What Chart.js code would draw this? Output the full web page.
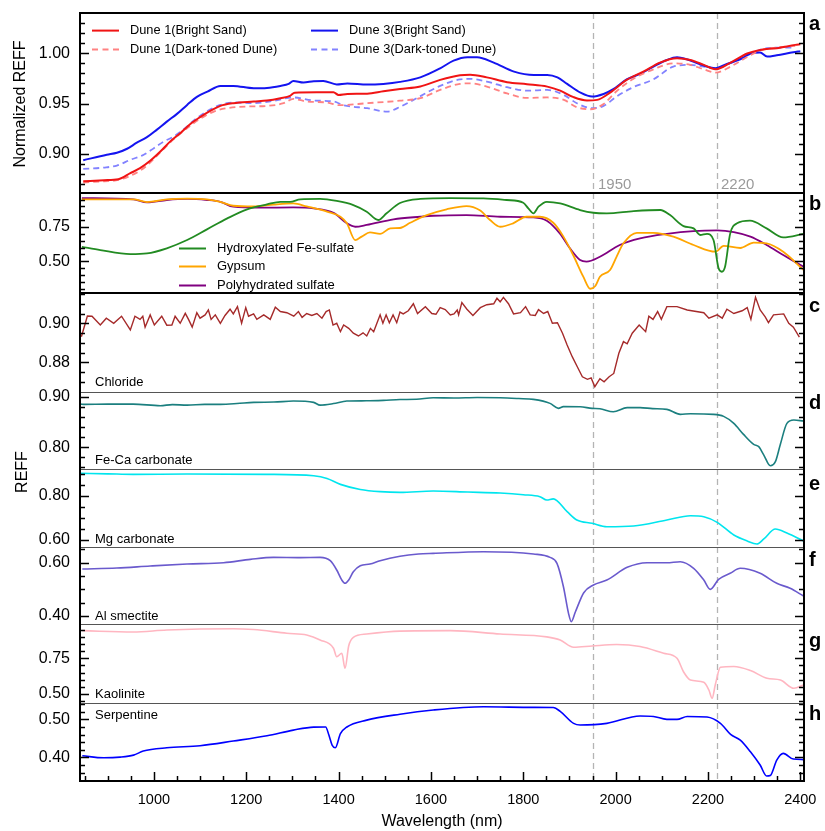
<!DOCTYPE html>
<html lang="en">
<head>
<meta charset="UTF-8">
<title>REFF spectra</title>
<script src="https://cdn.jsdelivr.net/npm/chart.js@4.4.0/dist/chart.umd.min.js"></script>
<style>
  body { margin: 0; background: #fff; }
  #wrap { position: relative; width: 825px; height: 831px; font-family: "Liberation Sans", Arial, sans-serif; color: #000; }
  #wrap canvas { position: absolute; left: 0; }
  .txt { position: absolute; white-space: nowrap; line-height: 1; transform: translateY(-50%); }
  .letter { font-weight: bold; font-size: 20px; left: 809px; }
  .mineral { font-size: 13px; left: 95px; }
  .mark { font-size: 15px; color: #9a9a9a; }
  .leg { position: absolute; font-size: 12.8px; white-space: nowrap; line-height: 1; transform: translateY(-50%); }
  .leg i { display: inline-block; width: 27px; height: 0; vertical-align: middle; margin-right: 11px; border-top: 2px solid; }
  .leg i.dash { border-top-style: dashed; }
</style>
</head>
<body>
<div id="wrap">
  <div class="txt" style="left:20px;top:104px;font-size:16px;transform:translate(-50%,-50%) rotate(-90deg)">Normalized REFF</div>
  <div class="txt" style="left:22px;top:472px;font-size:16px;transform:translate(-50%,-50%) rotate(-90deg)">REFF</div>
  <div class="txt" style="left:442px;top:821px;font-size:16px;transform:translate(-50%,-50%)">Wavelength (nm)</div>

  <div class="leg" style="left:92px;top:30px"><i style="border-color:#f01414"></i>Dune 1(Bright Sand)</div>
  <div class="leg" style="left:92px;top:49px"><i class="dash" style="border-color:#ff8282"></i>Dune 1(Dark-toned Dune)</div>
  <div class="leg" style="left:311px;top:30px"><i style="border-color:#1414f0"></i>Dune 3(Bright Sand)</div>
  <div class="leg" style="left:311px;top:49px"><i class="dash" style="border-color:#8282ff"></i>Dune 3(Dark-toned Dune)</div>

  <div class="leg" style="left:179px;top:247px;font-size:13px"><i style="border-color:#228b22"></i>Hydroxylated Fe-sulfate</div>
  <div class="leg" style="left:179px;top:265px;font-size:13px"><i style="border-color:#ffa500"></i>Gypsum</div>
  <div class="leg" style="left:179px;top:284px;font-size:13px"><i style="border-color:#800080"></i>Polyhydrated sulfate</div>

  <div class="txt mark" style="left:598px;top:183px">1950</div>
  <div class="txt mark" style="left:721px;top:183px">2220</div>

  <div class="txt mineral" style="top:381px">Chloride</div>
  <div class="txt mineral" style="top:459px">Fe-Ca carbonate</div>
  <div class="txt mineral" style="top:538px">Mg carbonate</div>
  <div class="txt mineral" style="top:615px">Al smectite</div>
  <div class="txt mineral" style="top:693px">Kaolinite</div>
  <div class="txt mineral" style="top:714px">Serpentine</div>

  <div class="txt letter" style="top:23px">a</div>
  <div class="txt letter" style="top:203px">b</div>
  <div class="txt letter" style="top:305px">c</div>
  <div class="txt letter" style="top:402px">d</div>
  <div class="txt letter" style="top:483px">e</div>
  <div class="txt letter" style="top:559px">f</div>
  <div class="txt letter" style="top:640px">g</div>
  <div class="txt letter" style="top:713px">h</div>
</div>

<script>
// x axis
const xMin = 840, xMax = 2408;
const xMajorTicks = [1000, 1200, 1400, 1600, 1800, 2000, 2200, 2400];
const markerLines = [1950, 2220];

// panel a - dune spectra [wavelength, normalized REFF]
const dune1Bright = [[847,0.8727],[892,0.8737],[923,0.8747],[949,0.8807],[970,0.8857],[992,0.893],[1014,0.9022],[1035,0.9121],[1057,0.9205],[1079,0.9297],[1100,0.9364],[1122,0.9426],[1144,0.9476],[1172,0.9503],[1216,0.952],[1245,0.953],[1274,0.9553],[1295,0.9576],[1305,0.9608],[1353,0.9612],[1389,0.9612],[1400,0.9585],[1419,0.9595],[1462,0.9598],[1497,0.9622],[1533,0.9645],[1577,0.967],[1620,0.9735],[1663,0.9781],[1685,0.9787],[1721,0.976],[1765,0.9712],[1808,0.9692],[1852,0.9668],[1880,0.9628],[1909,0.9563],[1938,0.953],[1960,0.9536],[1988,0.9608],[2024,0.9735],[2060,0.9817],[2096,0.9907],[2133,0.995],[2162,0.9933],[2191,0.9884],[2216,0.984],[2249,0.9907],[2285,0.9997],[2313,1.0033],[2349,1.005],[2389,1.0083],[2400,1.009]];
const dune1Dark = [[847,0.8714],[892,0.8727],[923,0.874],[963,0.8813],[985,0.8883],[1014,0.9015],[1043,0.9145],[1072,0.9254],[1100,0.9347],[1130,0.942],[1158,0.9453],[1201,0.947],[1245,0.9476],[1281,0.9503],[1302,0.9546],[1331,0.952],[1374,0.951],[1403,0.9483],[1462,0.9503],[1533,0.9528],[1577,0.9553],[1620,0.9635],[1663,0.9695],[1685,0.970],[1721,0.9668],[1765,0.960],[1808,0.9556],[1852,0.956],[1888,0.9536],[1916,0.9463],[1945,0.9443],[1974,0.9496],[2002,0.9622],[2038,0.9745],[2082,0.984],[2125,0.99],[2162,0.9884],[2191,0.984],[2216,0.9807],[2249,0.9867],[2285,0.9963],[2313,1.0027],[2349,1.0057],[2389,1.0073]];
const dune3Bright = [[847,0.8936],[898,0.899],[920,0.901],[942,0.905],[963,0.911],[985,0.9165],[1006,0.9238],[1028,0.932],[1050,0.9397],[1072,0.9486],[1094,0.9569],[1116,0.9618],[1144,0.9675],[1172,0.9675],[1216,0.9652],[1245,0.9655],[1274,0.9675],[1292,0.9695],[1302,0.9725],[1324,0.9708],[1346,0.9722],[1367,0.9725],[1396,0.969],[1419,0.970],[1462,0.9688],[1497,0.9695],[1533,0.9715],[1577,0.976],[1620,0.985],[1649,0.9926],[1679,0.996],[1700,0.996],[1736,0.9907],[1780,0.9817],[1823,0.9784],[1852,0.9784],[1874,0.976],[1895,0.9695],[1924,0.9608],[1949,0.9569],[1974,0.9595],[1995,0.9642],[2024,0.974],[2053,0.9794],[2082,0.9867],[2111,0.9933],[2133,0.996],[2154,0.994],[2183,0.989],[2216,0.985],[2241,0.9894],[2270,0.994],[2291,0.9993],[2313,1.0006],[2328,0.9967],[2349,0.998],[2385,1.001],[2400,1.002]];
const dune3Dark = [[847,0.885],[892,0.8863],[920,0.8883],[949,0.894],[978,0.899],[1000,0.9056],[1021,0.9121],[1043,0.9171],[1065,0.9245],[1086,0.933],[1116,0.9426],[1144,0.9486],[1172,0.951],[1216,0.9503],[1259,0.9526],[1302,0.956],[1346,0.953],[1389,0.952],[1411,0.9483],[1462,0.9453],[1505,0.942],[1533,0.9466],[1569,0.9553],[1620,0.9675],[1663,0.974],[1685,0.9745],[1721,0.9718],[1765,0.9662],[1808,0.9628],[1852,0.9635],[1888,0.9585],[1916,0.9503],[1949,0.9453],[1974,0.9476],[2002,0.9569],[2038,0.9662],[2082,0.974],[2125,0.9867],[2162,0.9884],[2191,0.9867],[2216,0.985],[2249,0.99],[2285,0.998],[2328,1.005],[2389,1.0057]];

// panel b - sulfates
const hydroxFeSulfate = [[844,0.606],[884,0.582],[949,0.553],[985,0.558],[1028,0.595],[1072,0.655],[1115,0.733],[1159,0.813],[1202,0.879],[1245,0.915],[1274,0.934],[1295,0.934],[1317,0.952],[1360,0.955],[1396,0.94],[1432,0.91],[1461,0.862],[1486,0.801],[1504,0.85],[1533,0.925],[1577,0.955],[1642,0.961],[1714,0.959],[1764,0.947],[1800,0.927],[1811,0.886],[1822,0.85],[1833,0.898],[1851,0.934],[1880,0.922],[1923,0.874],[1952,0.854],[1981,0.85],[2039,0.866],[2097,0.874],[2118,0.837],[2147,0.757],[2169,0.74],[2183,0.692],[2198,0.70],[2212,0.655],[2223,0.449],[2230,0.424],[2237,0.46],[2248,0.70],[2263,0.777],[2291,0.796],[2327,0.74],[2363,0.675],[2407,0.70]];
const gypsum = [[844,0.952],[956,0.952],[985,0.932],[1028,0.952],[1072,0.957],[1115,0.952],[1144,0.934],[1172,0.905],[1216,0.90],[1260,0.914],[1302,0.922],[1331,0.90],[1375,0.862],[1404,0.825],[1418,0.777],[1436,0.655],[1450,0.68],[1468,0.711],[1490,0.70],[1512,0.74],[1533,0.743],[1555,0.781],[1591,0.837],[1634,0.879],[1677,0.903],[1706,0.872],[1728,0.801],[1750,0.752],[1778,0.777],[1807,0.825],[1836,0.825],[1865,0.781],[1887,0.68],[1908,0.546],[1930,0.388],[1945,0.30],[1956,0.32],[1966,0.388],[1988,0.437],[2002,0.533],[2017,0.631],[2046,0.708],[2082,0.708],[2125,0.68],[2169,0.619],[2216,0.57],[2234,0.612],[2270,0.597],[2299,0.636],[2327,0.631],[2363,0.57],[2407,0.437]];
const polyhydSulfate = [[844,0.961],[956,0.952],[985,0.929],[1028,0.947],[1072,0.955],[1115,0.947],[1144,0.934],[1172,0.898],[1230,0.891],[1302,0.893],[1346,0.886],[1389,0.854],[1418,0.777],[1436,0.752],[1461,0.765],[1519,0.806],[1577,0.825],[1605,0.832],[1677,0.837],[1750,0.825],[1822,0.82],[1851,0.796],[1880,0.70],[1901,0.595],[1923,0.509],[1937,0.497],[1966,0.533],[2009,0.619],[2053,0.667],[2111,0.70],[2169,0.72],[2220,0.725],[2256,0.713],[2292,0.68],[2327,0.619],[2363,0.546],[2407,0.46]];

// panel c - chloride
const chloride = [[843,0.8931],[856,0.9037],[866,0.9036],[884,0.8991],[897,0.9026],[913,0.900],[930,0.9036],[949,0.8966],[959,0.9036],[970,0.902],[976,0.9036],[981,0.898],[992,0.9043],[1001,0.8991],[1017,0.9036],[1028,0.899],[1039,0.8991],[1046,0.9036],[1057,0.900],[1068,0.9051],[1075,0.902],[1083,0.898],[1093,0.9054],[1100,0.9026],[1111,0.9043],[1118,0.9068],[1124,0.902],[1133,0.9043],[1144,0.900],[1154,0.904],[1165,0.9072],[1172,0.9048],[1181,0.9085],[1190,0.900],[1199,0.908],[1205,0.9036],[1216,0.9048],[1223,0.902],[1238,0.9043],[1252,0.902],[1263,0.9082],[1274,0.906],[1288,0.9054],[1303,0.9036],[1313,0.906],[1321,0.903],[1331,0.905],[1342,0.904],[1353,0.905],[1364,0.9026],[1373,0.906],[1380,0.9068],[1388,0.8991],[1396,0.900],[1404,0.8957],[1411,0.8991],[1422,0.8974],[1432,0.8949],[1443,0.8935],[1453,0.8951],[1461,0.8935],[1469,0.8974],[1476,0.8957],[1483,0.900],[1490,0.9043],[1496,0.900],[1503,0.9043],[1510,0.9003],[1518,0.9043],[1526,0.9003],[1533,0.9057],[1540,0.9048],[1551,0.9064],[1562,0.910],[1571,0.905],[1588,0.9085],[1602,0.905],[1611,0.9046],[1620,0.908],[1631,0.907],[1642,0.9043],[1650,0.9048],[1657,0.9068],[1660,0.9043],[1667,0.9106],[1678,0.9072],[1691,0.904],[1707,0.908],[1721,0.9095],[1736,0.910],[1743,0.9128],[1750,0.911],[1757,0.9133],[1768,0.910],[1779,0.9048],[1794,0.9054],[1805,0.9085],[1815,0.9043],[1826,0.904],[1833,0.907],[1844,0.905],[1853,0.906],[1863,0.900],[1874,0.9003],[1885,0.8949],[1895,0.8889],[1906,0.8829],[1917,0.8777],[1928,0.8726],[1939,0.8713],[1947,0.872],[1955,0.8675],[1966,0.8716],[1975,0.870],[1986,0.8726],[1996,0.8743],[2007,0.8846],[2017,0.8906],[2025,0.8895],[2036,0.8949],[2051,0.8991],[2065,0.8957],[2072,0.9036],[2081,0.902],[2091,0.906],[2099,0.902],[2111,0.9085],[2133,0.9085],[2155,0.9068],[2191,0.9054],[2202,0.9026],[2220,0.9043],[2231,0.9026],[2241,0.9072],[2256,0.905],[2274,0.9064],[2285,0.908],[2293,0.902],[2303,0.9133],[2313,0.9068],[2324,0.9033],[2331,0.9003],[2342,0.9043],[2364,0.9048],[2375,0.900],[2385,0.898],[2398,0.8929]];

// panels d-h - carbonates, clays, serpentine
const feCaCarbonate = [[842,0.886],[848,0.8855],[900,0.886],[955,0.886],[1014,0.8828],[1040,0.885],[1072,0.884],[1110,0.8855],[1144,0.8855],[1180,0.887],[1216,0.8894],[1260,0.890],[1302,0.892],[1346,0.8894],[1360,0.884],[1389,0.887],[1418,0.892],[1460,0.8925],[1497,0.8934],[1533,0.895],[1569,0.8955],[1605,0.8986],[1650,0.898],[1700,0.899],[1750,0.8986],[1790,0.897],[1822,0.8953],[1858,0.8874],[1876,0.8775],[1887,0.881],[1923,0.8806],[1949,0.8775],[1966,0.8767],[1995,0.8708],[2025,0.879],[2053,0.879],[2080,0.877],[2111,0.8755],[2140,0.8656],[2162,0.8668],[2212,0.8656],[2234,0.8616],[2256,0.8477],[2277,0.8258],[2299,0.806],[2310,0.8014],[2321,0.7847],[2335,0.7635],[2346,0.7715],[2357,0.8067],[2371,0.8477],[2386,0.8543],[2407,0.8523]];
const mgCarbonate = [[842,0.903],[900,0.901],[955,0.8986],[1072,0.900],[1245,0.8986],[1346,0.892],[1375,0.880],[1404,0.853],[1447,0.830],[1490,0.820],[1533,0.8166],[1605,0.8227],[1680,0.818],[1750,0.8136],[1800,0.806],[1836,0.797],[1851,0.7818],[1865,0.787],[1895,0.7287],[1916,0.691],[1949,0.676],[1981,0.6605],[2039,0.6636],[2111,0.691],[2162,0.7105],[2191,0.706],[2220,0.6803],[2256,0.6227],[2285,0.5955],[2306,0.5818],[2321,0.6045],[2346,0.65],[2371,0.6318],[2407,0.5955]];
const alSmectite = [[845,0.5764],[920,0.580],[992,0.5876],[1072,0.595],[1151,0.600],[1209,0.6126],[1259,0.620],[1317,0.619],[1360,0.620],[1382,0.6075],[1396,0.5726],[1407,0.535],[1414,0.5227],[1422,0.535],[1432,0.5663],[1447,0.5888],[1468,0.595],[1490,0.6075],[1533,0.624],[1573,0.6325],[1605,0.635],[1714,0.6414],[1822,0.6326],[1858,0.62],[1873,0.5977],[1887,0.51],[1898,0.410],[1904,0.3787],[1913,0.416],[1931,0.4874],[1952,0.5163],[1981,0.535],[2025,0.5826],[2068,0.600],[2111,0.600],[2140,0.6038],[2169,0.579],[2191,0.535],[2205,0.50],[2223,0.5375],[2248,0.5602],[2270,0.579],[2313,0.5602],[2349,0.5227],[2378,0.504],[2407,0.475]];
const kaolinite = [[845,0.9433],[955,0.934],[1028,0.948],[1172,0.957],[1216,0.951],[1288,0.925],[1331,0.913],[1360,0.878],[1389,0.82],[1396,0.761],[1407,0.785],[1414,0.68],[1422,0.838],[1432,0.897],[1461,0.92],[1533,0.94],[1642,0.9433],[1750,0.92],[1851,0.90],[1880,0.878],[1909,0.827],[1949,0.836],[2002,0.846],[2053,0.832],[2104,0.785],[2133,0.75],[2147,0.656],[2162,0.598],[2191,0.582],[2202,0.528],[2209,0.47],[2216,0.566],[2227,0.687],[2256,0.692],[2292,0.664],[2328,0.61],[2357,0.598],[2386,0.54],[2407,0.563]];
const serpentine = [[845,0.4042],[891,0.399],[927,0.4007],[956,0.406],[977,0.4166],[1028,0.4253],[1100,0.4306],[1172,0.443],[1245,0.4568],[1302,0.4718],[1346,0.4797],[1372,0.48],[1379,0.4587],[1386,0.4324],[1393,0.4253],[1404,0.4622],[1418,0.48],[1461,0.498],[1533,0.5135],[1605,0.5245],[1714,0.533],[1822,0.5315],[1865,0.531],[1880,0.521],[1909,0.4895],[1923,0.485],[1981,0.4895],[2053,0.509],[2082,0.5077],[2111,0.500],[2133,0.50],[2155,0.5077],[2198,0.506],[2227,0.4895],[2249,0.4605],[2270,0.4455],[2292,0.4148],[2313,0.38],[2327,0.351],[2335,0.3525],[2349,0.3929],[2363,0.4105],[2385,0.3956],[2407,0.3942]];

// y tick labels per panel
const ticksA = [0.90, 0.95, 1.00];
const ticksB = [0.50, 0.75];
const ticksC = [0.88, 0.90];
const ticksD = [0.80, 0.90];
const ticksE = [0.60, 0.80];
const ticksF = [0.40, 0.60];
const ticksG = [0.50, 0.75];
const ticksH = [0.40, 0.50];

Chart.defaults.font.family = '"Liberation Sans", Arial, sans-serif';
Chart.defaults.color = '#000';

const panels = [
  { top: 13, h: 180, min: 0.861, max: 1.040, labels: ticksA, step: 0.01, line: 'thick', series: [
    { d: dune1Bright, c: '#f01414', w: 2 },
    { d: dune1Dark, c: '#ff8282', w: 1.8, dash: [6, 4] },
    { d: dune3Bright, c: '#1414f0', w: 2 },
    { d: dune3Dark, c: '#8282ff', w: 1.8, dash: [6, 4] }] },
  { top: 193, h: 100, min: 0.269, max: 0.998, labels: ticksB, step: 0.05, line: 'thick', series: [
    { d: hydroxFeSulfate, c: '#228b22', w: 1.8 },
    { d: gypsum, c: '#ffa500', w: 1.8 },
    { d: polyhydSulfate, c: '#800080', w: 1.8 }] },
  { top: 293, h: 99, min: 0.8648, max: 0.9155, labels: ticksC, step: 0.005, line: 'thick', series: [
    { d: chloride, c: '#a52a2a', w: 1.4, straight: true }] },
  { top: 392, h: 77, min: 0.757, max: 0.910, labels: ticksD, step: 0.02, line: 'thin', series: [
    { d: feCaCarbonate, c: '#1b7f7f', w: 1.6 }] },
  { top: 469, h: 78, min: 0.568, max: 0.923, labels: ticksE, step: 0.05, line: 'thin', series: [
    { d: mgCarbonate, c: '#00e5ee', w: 1.6 }] },
  { top: 547, h: 77, min: 0.370, max: 0.659, labels: ticksF, step: 0.05, line: 'thin', series: [
    { d: alSmectite, c: '#6a5acd', w: 1.6 }] },
  { top: 624, h: 79, min: 0.437, max: 0.990, labels: ticksG, step: 0.05, line: 'thin', series: [
    { d: kaolinite, c: '#ffb6c1', w: 1.6 }] },
  { top: 703, h: 78, min: 0.338, max: 0.543, labels: ticksH, step: 0.02, line: 'thin', last: true, series: [
    { d: serpentine, c: '#0000ff', w: 1.6 }] }
];

// frame, inward ticks and the two marker lines
const framePlugin = {
  id: 'frame',
  beforeDatasetsDraw(chart, args, p) {
    const { ctx, chartArea: a, scales: { x } } = chart;
    ctx.save();
    ctx.strokeStyle = '#b4b4b4';
    ctx.lineWidth = 1.3;
    ctx.setLineDash([6, 4]);
    markerLines.forEach(v => {
      const px = Math.round(x.getPixelForValue(v)) + 0.5;
      ctx.beginPath(); ctx.moveTo(px, a.top); ctx.lineTo(px, a.bottom); ctx.stroke();
    });
    ctx.restore();
  },
  afterDraw(chart, args, p) {
    const { ctx, chartArea: a, scales: { x, y } } = chart;
    ctx.save();
    ctx.strokeStyle = '#000';
    ctx.lineWidth = 1.5;
    const k0 = Math.ceil(p.min / p.step - 1e-6), k1 = Math.floor(p.max / p.step + 1e-6);
    for (let k = k0; k <= k1; k++) {
      const v = k * p.step;
      const major = p.labels.some(l => Math.abs(l - v) < p.step / 10);
      const len = major ? 9 : 5;
      const py = Math.round(y.getPixelForValue(v)) + 0.5;
      if (py < a.top + 1 || py > a.bottom - 1) continue;
      ctx.beginPath();
      ctx.moveTo(a.left, py); ctx.lineTo(a.left + len, py);
      ctx.moveTo(a.right, py); ctx.lineTo(a.right - len, py);
      ctx.stroke();
    }
    if (p.last) {
      for (let v = 850; v <= 2400; v += 50) {
        const len = v % 200 === 0 ? 9 : 5;
        const px = Math.round(x.getPixelForValue(v)) + 0.5;
        ctx.beginPath(); ctx.moveTo(px, a.bottom); ctx.lineTo(px, a.bottom - len); ctx.stroke();
      }
    }
    // side borders
    ctx.lineWidth = 2;
    ctx.beginPath();
    ctx.moveTo(a.left, a.top - 1); ctx.lineTo(a.left, a.bottom + 1);
    ctx.moveTo(a.right, a.top - 1); ctx.lineTo(a.right, a.bottom + 1);
    ctx.stroke();
    // top border
    if (p.line === 'thick') { ctx.lineWidth = 2; ctx.strokeStyle = '#000'; }
    else { ctx.lineWidth = 1; ctx.strokeStyle = '#555'; }
    const ty = p.line === 'thick' ? a.top : a.top + 0.5;
    ctx.beginPath(); ctx.moveTo(a.left, ty); ctx.lineTo(a.right, ty); ctx.stroke();
    if (p.last) {
      ctx.lineWidth = 2; ctx.strokeStyle = '#000';
      ctx.beginPath(); ctx.moveTo(a.left - 1, a.bottom); ctx.lineTo(a.right + 1, a.bottom); ctx.stroke();
    }
    ctx.restore();
  }
};

const wrap = document.getElementById('wrap');
const pad = 5;

panels.forEach(p => {
  const canvas = document.createElement('canvas');
  const axisH = p.last ? 50 : 0;
  const height = p.h + pad + (p.last ? axisH : pad);
  canvas.width = 825;
  canvas.height = height;
  canvas.style.top = (p.top - pad) + 'px';
  canvas.style.width = '825px';
  canvas.style.height = height + 'px';
  wrap.insertBefore(canvas, wrap.firstChild);

  new Chart(canvas, {
    type: 'line',
    data: {
      datasets: p.series.map(s => ({
        data: s.d.map(pt => ({ x: pt[0], y: pt[1] })),
        borderColor: s.c,
        borderWidth: s.w,
        borderDash: s.dash || [],
        pointRadius: 0,
        fill: false,
        tension: 0,
        cubicInterpolationMode: s.straight ? 'default' : 'monotone'
      }))
    },
    options: {
      responsive: false,
      animation: false,
      devicePixelRatio: 1,
      layout: { padding: { left: 0, right: 21, top: pad, bottom: p.last ? 0 : pad } },
      plugins: { legend: { display: false }, tooltip: { enabled: false }, frame: p },
      scales: {
        x: {
          type: 'linear', min: xMin, max: xMax, display: !!p.last,
          afterFit(s) { s.height = axisH; s.paddingLeft = 0; s.paddingRight = 0; },
          afterBuildTicks(s) { s.ticks = xMajorTicks.map(v => ({ value: v })); },
          ticks: { padding: 10, font: { size: 14.5 }, color: '#000', maxRotation: 0, autoSkip: false, callback: v => String(v) },
          grid: { display: false, drawTicks: false },
          border: { display: false }
        },
        y: {
          min: p.min, max: p.max,
          afterFit(s) { s.width = 80; s.paddingTop = 0; s.paddingBottom = 0; },
          afterBuildTicks(s) { s.ticks = p.labels.map(v => ({ value: v })); },
          ticks: { padding: 10, font: { size: 16 }, color: '#000', callback: v => v.toFixed(2) },
          grid: { display: false, drawTicks: false },
          border: { display: false }
        }
      }
    },
    plugins: [framePlugin]
  });
});
</script>
</body>
</html>
